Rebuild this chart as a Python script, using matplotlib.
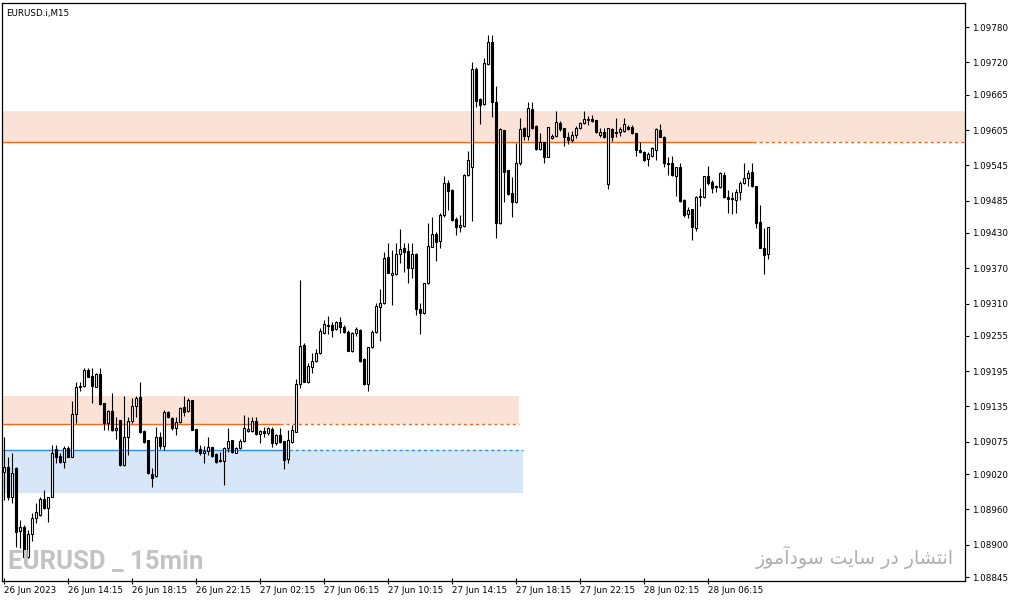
import numpy as np
import matplotlib
matplotlib.use('Agg')
import matplotlib.pyplot as plt

# EURUSD M15 candles, 26 Jun 10:15 onward (one per bar)
opens = [
    1.09024, 1.09032, 1.08981, 1.09030, 1.08923, 1.08930, 1.08879, 1.08918, 1.08945, 1.08951, 1.08978, 1.08962,
    1.08981, 1.09063, 1.09051, 1.09041, 1.09064, 1.09049, 1.09122, 1.09168, 1.09170, 1.09197, 1.09187, 1.09168,
    1.09190, 1.09141, 1.09107, 1.09127, 1.09095, 1.09112, 1.09036, 1.09083, 1.09110, 1.09136, 1.09151, 1.09093,
    1.09078, 1.09020, 1.09017, 1.09083, 1.09068, 1.09126, 1.09115, 1.09098, 1.09109, 1.09134, 1.09127, 1.09146,
    1.09097, 1.09063, 1.09056, 1.09059, 1.09066, 1.09054, 1.09042, 1.09042, 1.09064, 1.09078, 1.09056, 1.09064,
    1.09076, 1.09093, 1.09093, 1.09110, 1.09088, 1.09093, 1.09090, 1.09097, 1.09073, 1.09087, 1.09076, 1.09046,
    1.09075, 1.09092, 1.09173, 1.09240, 1.09177, 1.09202, 1.09212, 1.09226, 1.09260, 1.09272, 1.09274, 1.09267,
    1.09279, 1.09270, 1.09262, 1.09229, 1.09260, 1.09265, 1.09216, 1.09173, 1.09236, 1.09262, 1.09304, 1.09311,
    1.09389, 1.09359, 1.09360, 1.09394, 1.09404, 1.09399, 1.09370, 1.09394, 1.09301, 1.09294, 1.09345, 1.09406,
    1.09428, 1.09416, 1.09461, 1.09515, 1.09503, 1.09454, 1.09440, 1.09442, 1.09529, 1.09542, 1.09709, 1.09658,
    1.09649, 1.09717, 1.09755, 1.09653, 1.09447, 1.09605, 1.09537, 1.09498, 1.09483, 1.09549, 1.09608, 1.09595,
    1.09641, 1.09612, 1.09573, 1.09585, 1.09559, 1.09591, 1.09595, 1.09617, 1.09608, 1.09593, 1.09588, 1.09597,
    1.09608, 1.09617, 1.09622, 1.09624, 1.09622, 1.09597, 1.09602, 1.09513, 1.09607, 1.09602, 1.09602, 1.09603,
    1.09610, 1.09610, 1.09600, 1.09571, 1.09568, 1.09556, 1.09561, 1.09571, 1.09605, 1.09593, 1.09549, 1.09549,
    1.09527, 1.09542, 1.09486, 1.09462, 1.09471, 1.09438, 1.09491, 1.09491, 1.09527, 1.09517, 1.09510, 1.09508,
    1.09529, 1.09491, 1.09489, 1.09486, 1.09500, 1.09515, 1.09523, 1.09534, 1.09510, 1.09449, 1.09404, 1.09394,
]
highs = [
    1.09083, 1.09049, 1.09056, 1.09032, 1.08942, 1.08934, 1.08925, 1.08954, 1.08971, 1.08981, 1.08993, 1.08981,
    1.09070, 1.09070, 1.09056, 1.09068, 1.09068, 1.09144, 1.09177, 1.09177, 1.09200, 1.09200, 1.09200, 1.09192,
    1.09200, 1.09141, 1.09129, 1.09158, 1.09117, 1.09112, 1.09153, 1.09117, 1.09149, 1.09153, 1.09177, 1.09095,
    1.09078, 1.09030, 1.09100, 1.09092, 1.09129, 1.09127, 1.09117, 1.09117, 1.09134, 1.09153, 1.09149, 1.09146,
    1.09097, 1.09070, 1.09068, 1.09083, 1.09066, 1.09056, 1.09058, 1.09066, 1.09098, 1.09078, 1.09066, 1.09080,
    1.09121, 1.09117, 1.09117, 1.09117, 1.09095, 1.09100, 1.09100, 1.09100, 1.09088, 1.09098, 1.09076, 1.09095,
    1.09104, 1.09182, 1.09350, 1.09243, 1.09209, 1.09226, 1.09233, 1.09268, 1.09282, 1.09289, 1.09279, 1.09280,
    1.09287, 1.09274, 1.09265, 1.09262, 1.09270, 1.09267, 1.09217, 1.09236, 1.09265, 1.09311, 1.09335, 1.09398,
    1.09413, 1.09401, 1.09413, 1.09437, 1.09413, 1.09413, 1.09413, 1.09396, 1.09311, 1.09345, 1.09447, 1.09457,
    1.09432, 1.09464, 1.09527, 1.09520, 1.09505, 1.09457, 1.09461, 1.09530, 1.09569, 1.09721, 1.09712, 1.09659,
    1.09727, 1.09767, 1.09767, 1.09680, 1.09608, 1.09605, 1.09537, 1.09525, 1.09583, 1.09625, 1.09610, 1.09653,
    1.09653, 1.09614, 1.09600, 1.09585, 1.09610, 1.09598, 1.09637, 1.09620, 1.09608, 1.09602, 1.09603, 1.09612,
    1.09619, 1.09637, 1.09629, 1.09630, 1.09622, 1.09608, 1.09608, 1.09608, 1.09608, 1.09625, 1.09610, 1.09625,
    1.09614, 1.09614, 1.09600, 1.09585, 1.09569, 1.09568, 1.09576, 1.09608, 1.09615, 1.09595, 1.09559, 1.09561,
    1.09542, 1.09549, 1.09488, 1.09474, 1.09471, 1.09493, 1.09506, 1.09527, 1.09544, 1.09520, 1.09512, 1.09534,
    1.09534, 1.09503, 1.09500, 1.09505, 1.09518, 1.09549, 1.09537, 1.09549, 1.09510, 1.09478, 1.09438, 1.09440,
]
lows = [
    1.08976, 1.08976, 1.08971, 1.08896, 1.08894, 1.08876, 1.08877, 1.08906, 1.08937, 1.08949, 1.08961, 1.08939,
    1.08981, 1.09039, 1.09039, 1.09030, 1.09049, 1.09049, 1.09107, 1.09161, 1.09168, 1.09185, 1.09141, 1.09168,
    1.09138, 1.09095, 1.09095, 1.09093, 1.09080, 1.09034, 1.09034, 1.09053, 1.09107, 1.09117, 1.09090, 1.09073,
    1.09020, 1.08998, 1.09015, 1.09063, 1.09061, 1.09115, 1.09095, 1.09087, 1.09107, 1.09119, 1.09126, 1.09095,
    1.09058, 1.09053, 1.09039, 1.09053, 1.09049, 1.09039, 1.09041, 1.09002, 1.09058, 1.09056, 1.09056, 1.09063,
    1.09075, 1.09092, 1.09092, 1.09087, 1.09073, 1.09083, 1.09087, 1.09066, 1.09070, 1.09073, 1.09029, 1.09039,
    1.09073, 1.09092, 1.09166, 1.09177, 1.09175, 1.09192, 1.09211, 1.09224, 1.09258, 1.09258, 1.09253, 1.09265,
    1.09260, 1.09260, 1.09229, 1.09228, 1.09255, 1.09211, 1.09172, 1.09161, 1.09234, 1.09260, 1.09246, 1.09309,
    1.09362, 1.09308, 1.09359, 1.09379, 1.09364, 1.09345, 1.09353, 1.09291, 1.09258, 1.09292, 1.09343, 1.09406,
    1.09382, 1.09404, 1.09457, 1.09469, 1.09450, 1.09427, 1.09432, 1.09440, 1.09527, 1.09450, 1.09644, 1.09615,
    1.09648, 1.09716, 1.09627, 1.09421, 1.09445, 1.09483, 1.09495, 1.09457, 1.09481, 1.09546, 1.09588, 1.09588,
    1.09607, 1.09571, 1.09571, 1.09549, 1.09559, 1.09590, 1.09593, 1.09603, 1.09578, 1.09581, 1.09585, 1.09591,
    1.09607, 1.09615, 1.09614, 1.09619, 1.09600, 1.09593, 1.09591, 1.09505, 1.09586, 1.09593, 1.09595, 1.09602,
    1.09605, 1.09598, 1.09561, 1.09566, 1.09552, 1.09544, 1.09559, 1.09554, 1.09593, 1.09542, 1.09529, 1.09527,
    1.09493, 1.09483, 1.09457, 1.09455, 1.09418, 1.09433, 1.09476, 1.09489, 1.09512, 1.09498, 1.09500, 1.09506,
    1.09489, 1.09464, 1.09462, 1.09464, 1.09486, 1.09513, 1.09510, 1.09508, 1.09438, 1.09404, 1.09360, 1.09386,
]
closes = [
    1.09032, 1.08981, 1.09022, 1.08922, 1.08930, 1.08879, 1.08918, 1.08945, 1.08956, 1.08978, 1.08962, 1.08981,
    1.09056, 1.09049, 1.09041, 1.09064, 1.09049, 1.09122, 1.09168, 1.09170, 1.09197, 1.09185, 1.09170, 1.09190,
    1.09139, 1.09107, 1.09127, 1.09095, 1.09098, 1.09036, 1.09083, 1.09110, 1.09136, 1.09149, 1.09092, 1.09075,
    1.09022, 1.09013, 1.09083, 1.09068, 1.09126, 1.09117, 1.09098, 1.09109, 1.09132, 1.09126, 1.09146, 1.09095,
    1.09059, 1.09056, 1.09059, 1.09066, 1.09051, 1.09041, 1.09044, 1.09064, 1.09076, 1.09058, 1.09064, 1.09076,
    1.09098, 1.09097, 1.09110, 1.09088, 1.09093, 1.09090, 1.09098, 1.09073, 1.09087, 1.09075, 1.09044, 1.09078,
    1.09095, 1.09173, 1.09238, 1.09177, 1.09204, 1.09212, 1.09226, 1.09263, 1.09275, 1.09274, 1.09265, 1.09279,
    1.09270, 1.09262, 1.09229, 1.09260, 1.09267, 1.09212, 1.09173, 1.09236, 1.09262, 1.09306, 1.09311, 1.09387,
    1.09362, 1.09362, 1.09394, 1.09403, 1.09398, 1.09370, 1.09394, 1.09301, 1.09294, 1.09345, 1.09408, 1.09428,
    1.09415, 1.09461, 1.09515, 1.09501, 1.09452, 1.09440, 1.09444, 1.09529, 1.09554, 1.09709, 1.09654, 1.09648,
    1.09719, 1.09755, 1.09653, 1.09447, 1.09607, 1.09534, 1.09496, 1.09483, 1.09549, 1.09607, 1.09595, 1.09642,
    1.09608, 1.09573, 1.09585, 1.09559, 1.09610, 1.09595, 1.09619, 1.09607, 1.09593, 1.09588, 1.09597, 1.09608,
    1.09617, 1.09624, 1.09624, 1.09620, 1.09602, 1.09602, 1.09593, 1.09608, 1.09593, 1.09600, 1.09607, 1.09615,
    1.09607, 1.09600, 1.09571, 1.09568, 1.09554, 1.09564, 1.09574, 1.09607, 1.09593, 1.09549, 1.09547, 1.09529,
    1.09542, 1.09484, 1.09461, 1.09469, 1.09440, 1.09491, 1.09491, 1.09527, 1.09515, 1.09506, 1.09508, 1.09532,
    1.09491, 1.09488, 1.09488, 1.09500, 1.09515, 1.09523, 1.09532, 1.09510, 1.09447, 1.09404, 1.09393, 1.09440,
]

# time axis labels, one every 16 bars
time_labels = ['26 Jun 2023', '26 Jun 14:15', '26 Jun 18:15', '26 Jun 22:15',
               '27 Jun 02:15', '27 Jun 06:15', '27 Jun 10:15', '27 Jun 14:15',
               '27 Jun 18:15', '27 Jun 22:15', '28 Jun 02:15', '28 Jun 06:15']
price_ticks = [1.09780, 1.09720, 1.09665, 1.09605, 1.09545, 1.09485, 1.09430, 1.09370, 1.09310,
               1.09255, 1.09195, 1.09135, 1.09075, 1.09020, 1.08960, 1.08900, 1.08845]

# supply / demand zones: price band, level line, bar where the line turns dashed, bar where zone stops
zone_low = [1.09584, 1.09105, 1.08988]
zone_high = [1.09637, 1.09153, 1.09061]
zone_level = [1.09584, 1.09105, 1.09061]
zone_solid_to = [187.25, 69.0, 69.75]
zone_end = [240.25, 128.75, 129.75]
zone_fill = ['#fbe2d6', '#fbe2d6', '#d7e7f8']
zone_line = ['#f26a1e', '#f26a1e', '#2e8ce8']

o = np.array(opens); h = np.array(highs); l = np.array(lows); c = np.array(closes)
x = np.arange(len(o))
up = c >= o

fig = plt.figure(figsize=(10.13, 6.01), dpi=100)
ax = fig.add_axes([2 / 1013, 20 / 601, 963 / 1013, 578 / 601])
ax.set_xlim(-0.5, 240.25)
ax.set_ylim(1.088383, 1.098209)

for lo_, hi_, lev, s_end, end, fc, lc in zip(zone_low, zone_high, zone_level,
                                               zone_solid_to, zone_end, zone_fill, zone_line):
    ax.fill_between([-0.5, end], lo_, hi_, color=fc, lw=0, zorder=0)
    ax.hlines(lev, -0.5, s_end, colors=lc, lw=1.0, zorder=1)
    ax.hlines(lev, s_end, end, colors=lc, lw=1.0, linestyles=(0, (2.2, 2.2)), zorder=1)

ax.vlines(x, l, h, color='black', lw=0.8, zorder=2)
body_lo = np.minimum(o, c)
body_h = np.maximum(np.abs(c - o), 0.000012)
ax.bar(x[up], body_h[up], bottom=body_lo[up], width=0.68, color='white',
       edgecolor='black', lw=0.8, zorder=3)
ax.bar(x[~up], body_h[~up], bottom=body_lo[~up], width=0.68, color='black',
       edgecolor='black', lw=0.8, zorder=3)

ax.yaxis.tick_right()
ax.set_yticks(price_ticks)
ax.set_yticklabels(['%.5f' % p for p in price_ticks])
ax.set_xticks(np.arange(len(time_labels)) * 16)
ax.set_xticklabels(time_labels, ha='left')
ax.tick_params(axis='y', direction='out', length=3, width=0.8, pad=2, labelsize=6.3)
ax.tick_params(axis='x', direction='inout', length=5, width=0.8, pad=1, labelsize=6.3)
for s in ax.spines.values():
    s.set_linewidth(0.9)

ax.text(0.004, 0.99, 'EURUSD.i,M15', transform=ax.transAxes, fontsize=6.3, va='top', ha='left')

ax.text(0.006, 0.012, 'EURUSD _ 15min', transform=ax.transAxes, fontsize=18.5,
        fontweight='bold', color='#c3c3c3', family=['Roboto', 'DejaVu Sans'],
        va='bottom', ha='left', zorder=4)

# Persian caption in Arabic presentation forms (matplotlib does no shaping), logical order
caption_fa = ('\ufe8d\ufee7\ufe98\ufeb8\ufe8e\ufead \ufea9\ufead '
              '\ufeb3\ufe8e\ufef3\ufe96 \ufeb3\ufeee\ufea9\ufe81\ufee3\ufeee\ufeaf')
ax.text(0.988, 0.02, caption_fa[::-1], transform=ax.transAxes, fontsize=13.6,
        color='#aeaeae', family=['DejaVu Sans'], va='bottom', ha='right', zorder=4)

fig.savefig('out.png', dpi=100)
